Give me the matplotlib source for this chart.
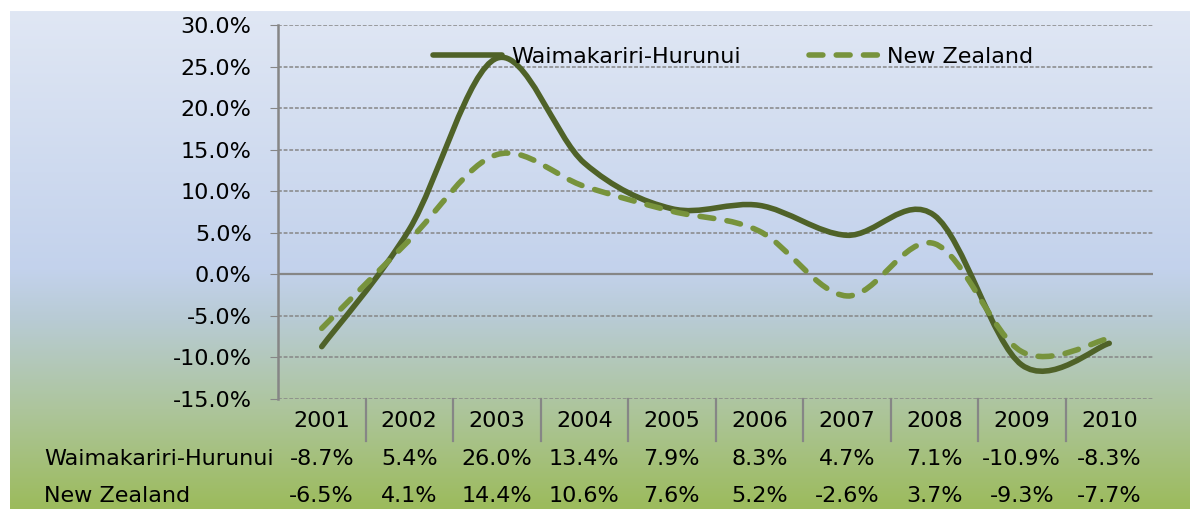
import numpy as np
import matplotlib
matplotlib.use("Agg")
import matplotlib.pyplot as plt
from matplotlib.path import Path
from matplotlib.patches import PathPatch
from matplotlib.lines import Line2D
from matplotlib.colors import LinearSegmentedColormap

# data
years = ["2001", "2002", "2003", "2004", "2005", "2006", "2007", "2008", "2009", "2010"]
waimakariri = [-8.7, 5.4, 26.0, 13.4, 7.9, 8.3, 4.7, 7.1, -10.9, -8.3]
new_zealand = [-6.5, 4.1, 14.4, 10.6, 7.6, 5.2, -2.6, 3.7, -9.3, -7.7]
series_names = ["Waimakariri-Hurunui", "New Zealand"]

DARK = "#4f6228"
LIGHT = "#77933c"
GRID = "#868686"
FS = 16


def smooth_path(xs, ys):
    # Bezier smoothing like a spreadsheet "smoothed line"
    pts = np.column_stack([xs, ys]).astype(float)
    n = len(pts)
    verts = [pts[0]]
    codes = [Path.MOVETO]
    for i in range(n - 1):
        p0 = pts[i - 1] if i > 0 else pts[i]
        p1 = pts[i]
        p2 = pts[i + 1]
        p3 = pts[i + 2] if i + 2 < n else pts[i + 1]
        c1 = p1 + (p2 - p0) / 6.0
        c2 = p2 - (p3 - p1) / 6.0
        verts += [c1, c2, p2]
        codes += [Path.CURVE4] * 3
    return Path(verts, codes)


fig = plt.figure(figsize=(11.9, 5.09), dpi=100)

# gradient background
bg = fig.add_axes([10 / 1190, 0, 1 - 10 / 1190, (509 - 11) / 509])
bg.set_axis_off()
cmap = LinearSegmentedColormap.from_list(
    "bg",
    [(0.0, "#e0e7f4"), (0.52, "#c3d2ec"), (0.62, "#b8cbd4"),
     (0.80, "#adc59c"), (1.0, "#9cbb5c")],
)
grad = np.linspace(0, 1, 256).reshape(-1, 1)
bg.imshow(grad, aspect="auto", cmap=cmap, extent=[0, 1, 0, 1])

ax = fig.add_axes([278 / 1190, 1 - 399 / 509, (1153 - 278) / 1190, (399 - 25) / 509])
ax.set_facecolor("none")
x = np.arange(len(years))
ax.set_xlim(-0.5, len(years) - 0.5)
ax.set_ylim(-15, 30)

ticks = np.arange(-15, 30.1, 5)
ax.set_yticks(ticks)
ax.set_yticklabels([f"{t:.1f}%" for t in ticks], fontsize=FS)
for t in ticks:
    if t == 0:
        ax.axhline(t, color=GRID, lw=1.6, zorder=1)
    else:
        ax.axhline(t, color=GRID, lw=1.1, ls=(0, (2.5, 1.2)), zorder=1)
ax.tick_params(axis="y", length=6, color=GRID, pad=13)
ax.set_xticks([])
for s in ["top", "right", "bottom"]:
    ax.spines[s].set_visible(False)
ax.spines["left"].set_color(GRID)
ax.spines["left"].set_linewidth(1.8)

# smoothed lines
p1 = PathPatch(smooth_path(x, waimakariri), fill=False, edgecolor=DARK, lw=4,
               capstyle="round", joinstyle="round", zorder=3)
p2 = PathPatch(smooth_path(x, new_zealand), fill=False, edgecolor=LIGHT, lw=4,
               linestyle=(0, (2.5, 2.4)), capstyle="round", joinstyle="round", zorder=3)
ax.add_patch(p1)
ax.add_patch(p2)

handles = [
    Line2D([], [], color=DARK, lw=4, solid_capstyle="round"),
    Line2D([], [], color=LIGHT, lw=4, ls=(0, (2.5, 2.4)), dash_capstyle="round"),
]
fig.legend(handles, series_names, loc="center left", bbox_to_anchor=(433 / 1190, 1 - 57 / 509),
           ncol=2, frameon=False, fontsize=FS, handlelength=3.1, handletextpad=0.4,
           columnspacing=3.1, borderpad=0, borderaxespad=0)

# data table under the axis
tr = ax.get_xaxis_transform()
h = 399 - 25
for k in range(1, len(years)):
    ax.plot([k - 0.5, k - 0.5], [0, -(441 - 399) / h], transform=tr, color=GRID,
            lw=1.6, clip_on=False)
for i, yr in enumerate(years):
    ax.text(i, -(421 - 399) / h, yr, transform=tr, ha="center", va="center", fontsize=FS)
    ax.text(i, -(459 - 399) / h, f"{waimakariri[i]:.1f}%", transform=tr,
            ha="center", va="center", fontsize=FS)
    ax.text(i, -(496 - 399) / h, f"{new_zealand[i]:.1f}%", transform=tr,
            ha="center", va="center", fontsize=FS)
fig.text(44 / 1190, 1 - 459 / 509, series_names[0], ha="left", va="center", fontsize=FS)
fig.text(44 / 1190, 1 - 496 / 509, series_names[1], ha="left", va="center", fontsize=FS)

fig.savefig("out.png", dpi=100)
